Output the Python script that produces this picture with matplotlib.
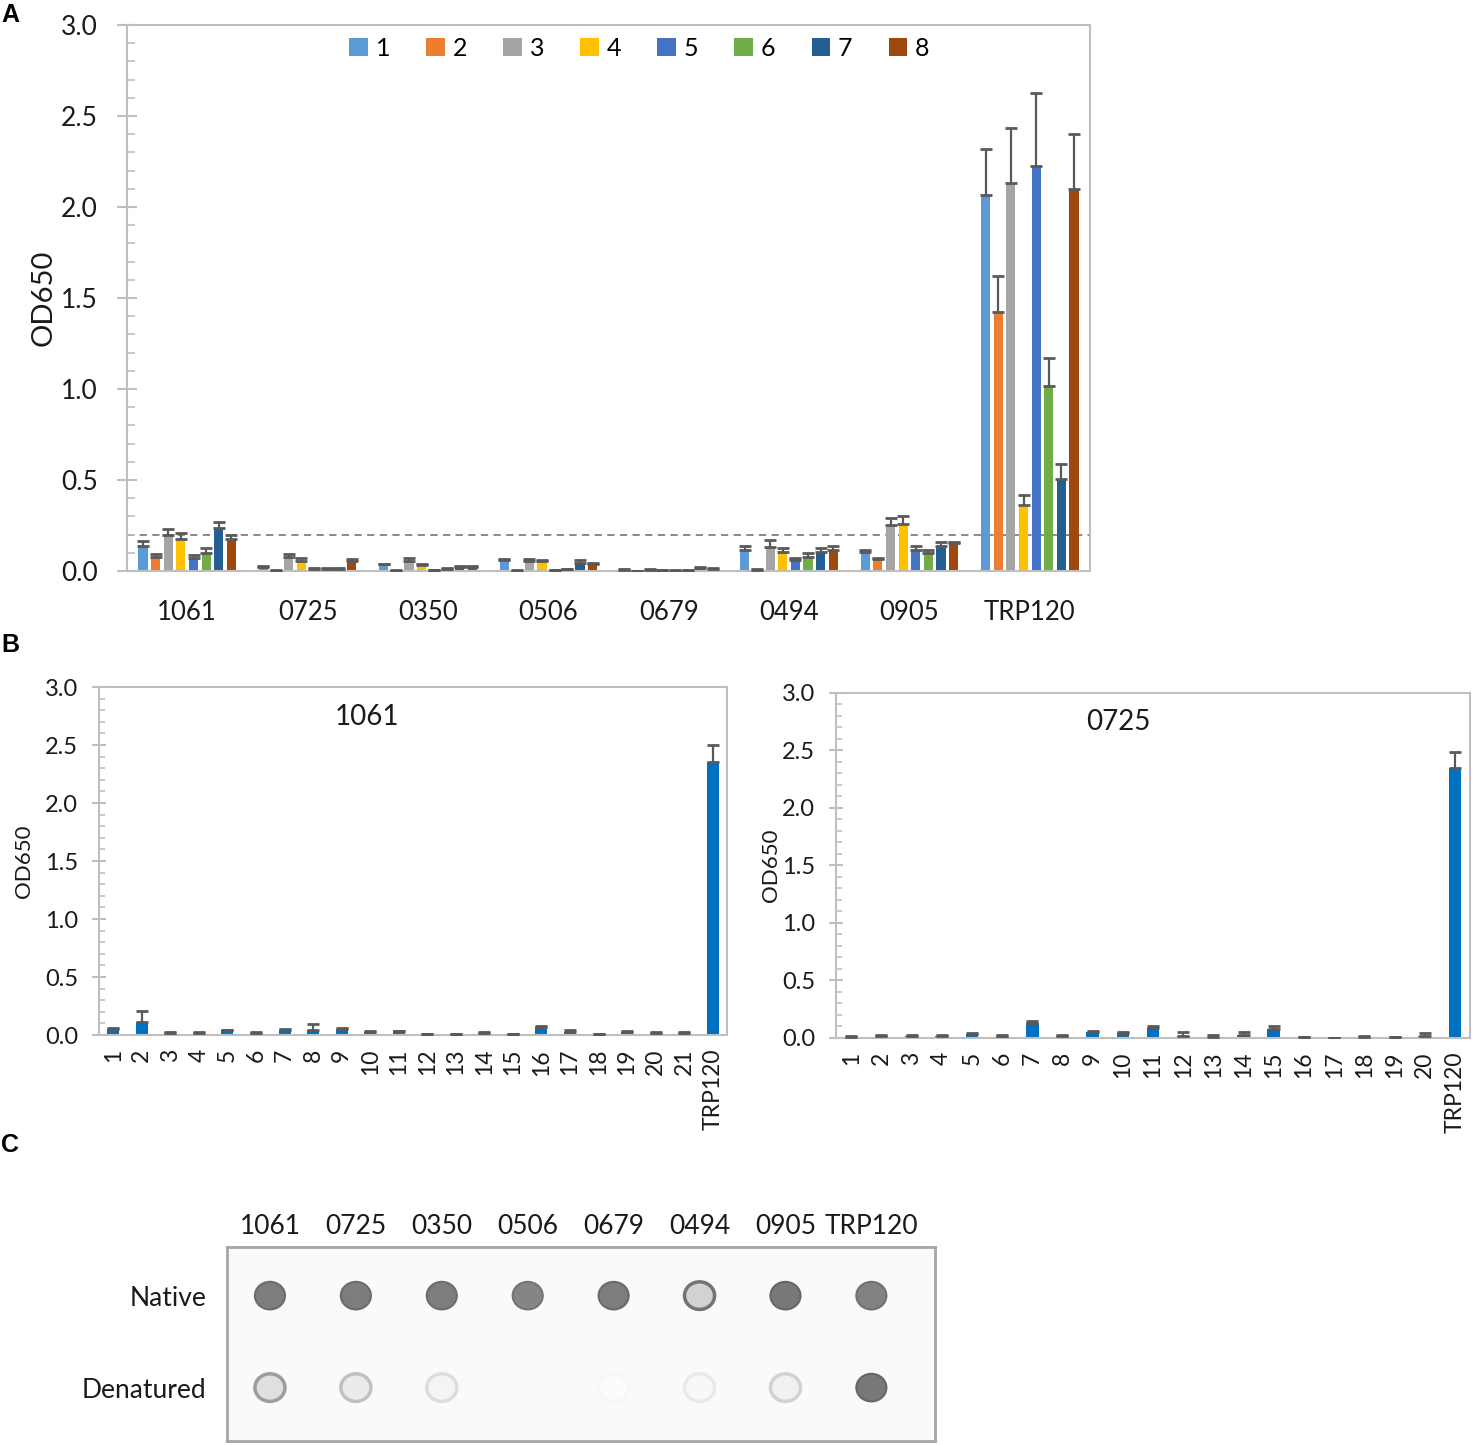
import matplotlib.pyplot as plt
import numpy as np
from matplotlib.patches import Ellipse
from matplotlib.ticker import MultipleLocator

plt.rcParams['font.family'] = ['Lato', 'DejaVu Sans']

# ---- panel A data: rows = antigen, columns = serum 1..8
antigens = ['1061', '0725', '0350', '0506', '0679', '0494', '0905', 'TRP120']
sera = ['1', '2', '3', '4', '5', '6', '7', '8']
sera_colors = ['#5B9BD5', '#ED7D31', '#A5A5A5', '#FFC000',
               '#4472C4', '#70AD47', '#255E91', '#9E480E']
a_means = [
    [0.136, 0.079, 0.200, 0.174, 0.074, 0.100, 0.236, 0.176],
    [0.024, 0.002, 0.077, 0.053, 0.013, 0.012, 0.012, 0.053],
    [0.037, 0.003, 0.055, 0.031, 0.005, 0.010, 0.024, 0.024],
    [0.059, 0.003, 0.057, 0.057, 0.005, 0.010, 0.044, 0.037],
    [0.005, 0.002, 0.008, 0.006, 0.003, 0.006, 0.018, 0.012],
    [0.117, 0.005, 0.132, 0.104, 0.063, 0.075, 0.104, 0.117],
    [0.104, 0.064, 0.253, 0.260, 0.114, 0.097, 0.136, 0.154],
    [2.066, 1.423, 2.130, 0.364, 2.225, 1.016, 0.505, 2.099],
]
a_errs = [
    [0.029, 0.013, 0.033, 0.033, 0.012, 0.025, 0.032, 0.024],
    [0.006, 0.002, 0.015, 0.021, 0.003, 0.003, 0.004, 0.011],
    [0.004, 0.001, 0.015, 0.009, 0.002, 0.005, 0.004, 0.004],
    [0.007, 0.001, 0.009, 0.005, 0.002, 0.003, 0.018, 0.005],
    [0.004, 0.001, 0.003, 0.002, 0.001, 0.002, 0.006, 0.006],
    [0.022, 0.005, 0.036, 0.022, 0.011, 0.024, 0.024, 0.022],
    [0.011, 0.008, 0.040, 0.042, 0.022, 0.020, 0.022, 0.004],
    [0.253, 0.197, 0.304, 0.054, 0.401, 0.154, 0.083, 0.301],
]
cutoff = 0.2

# ---- panel B data: peptides of 1061 and 0725
b1_labels = [str(i) for i in range(1, 22)] + ['TRP120']
b1_means = [0.050, 0.115, 0.017, 0.014, 0.040, 0.017, 0.046, 0.046, 0.052, 0.026,
            0.032, 0.009, 0.006, 0.020, 0.009, 0.066, 0.026, 0.009, 0.026, 0.020,
            0.020, 2.353]
b1_errs = [0.010, 0.092, 0.006, 0.015, 0.006, 0.006, 0.006, 0.046, 0.005, 0.006,
           0.005, 0.002, 0.003, 0.006, 0.002, 0.014, 0.017, 0.002, 0.006, 0.006,
           0.006, 0.147]
b2_labels = [str(i) for i in range(1, 21)] + ['TRP120']
b2_means = [0.009, 0.020, 0.020, 0.020, 0.035, 0.020, 0.130, 0.020, 0.052, 0.041,
            0.087, 0.020, 0.012, 0.026, 0.075, 0.006, 0.000, 0.009, 0.006, 0.017,
            2.350]
b2_errs = [0.005, 0.006, 0.006, 0.006, 0.008, 0.006, 0.021, 0.006, 0.009, 0.011,
           0.020, 0.029, 0.017, 0.023, 0.032, 0.003, 0.000, 0.005, 0.003, 0.026,
           0.140]

# ---- panel C data: dot blot signal (0 = none, 1 = dark)
native_signal = [0.85, 0.85, 0.85, 0.80, 0.85, 0.50, 0.88, 0.82]
denatured_signal = [0.35, 0.22, 0.12, 0.0, 0.03, 0.08, 0.16, 0.88]

GRID = '#BFBFBF'
ERR = '#595959'
TXT = '#1a1a1a'


def style_value_axis(ax, label_size):
    ax.set_ylim(0, 3.0)
    ax.yaxis.set_major_locator(MultipleLocator(0.5))
    ax.yaxis.set_minor_locator(MultipleLocator(0.1))
    ax.yaxis.set_major_formatter(plt.FuncFormatter(lambda v, p: '%.1f' % v))
    for s in ax.spines.values():
        s.set_color(GRID)
        s.set_linewidth(1.5)
    ax.tick_params(axis='y', which='major', direction='inout', length=14, width=1.5,
                   color=GRID, labelsize=label_size, labelcolor=TXT, pad=14)
    ax.tick_params(axis='y', which='minor', direction='in', length=6, width=1.2,
                   color=GRID)
    ax.tick_params(axis='x', length=0)


fig = plt.figure(figsize=(14.74, 14.45), dpi=100)

# ---------------- panel A
ax_a = fig.add_axes([0.0862, 0.6048, 0.6533, 0.3779])
style_value_axis(ax_a, 19)
x = np.arange(len(antigens))
pitch = 0.105
width = 0.076
means = np.array(a_means)
errs = np.array(a_errs)
for j, lab in enumerate(sera):
    pos = x + (j - 3.5) * pitch
    ax_a.bar(pos, means[:, j], width, color=sera_colors[j], label=lab, zorder=2)
    ax_a.errorbar(pos, means[:, j], yerr=[np.zeros(len(x)), errs[:, j]], fmt='none',
                  ecolor=ERR, elinewidth=1.6, capsize=4.5, capthick=2, zorder=3)
ax_a.axhline(cutoff, color='#808080', linestyle=(0, (4, 3)), linewidth=1.3, zorder=1)
ax_a.set_xlim(-0.5, len(antigens) - 0.5)
ax_a.set_xticks(x)
ax_a.set_xticklabels(antigens, fontsize=18.5, color=TXT)
ax_a.tick_params(axis='x', pad=21)
ax_a.set_ylabel('OD650', fontsize=21, color=TXT, labelpad=3)
ax_a.legend(loc='center', bbox_to_anchor=(0.532, 0.957), ncol=8, frameon=False,
            fontsize=18, handlelength=0.75, handleheight=0.75, handletextpad=0.3,
            columnspacing=1.45)

# ---------------- panel B
def peptide_panel(rect, labels, vals, errs_b, title, tx, ty, lpad):
    ax = fig.add_axes(rect)
    style_value_axis(ax, 17)
    ax.tick_params(axis='y', which='major', length=10, pad=10)
    ax.tick_params(axis='y', which='minor', length=4)
    xb = np.arange(len(labels))
    ax.bar(xb, vals, 0.42, color='#0070C0', zorder=2)
    ax.errorbar(xb, vals, yerr=[np.zeros(len(xb)), errs_b], fmt='none', ecolor=ERR,
                elinewidth=1.6, capsize=4.5, capthick=2, zorder=3)
    ax.set_xlim(-0.5, len(labels) - 0.5)
    ax.set_xticks(xb)
    ax.set_xticklabels(labels, rotation=90, fontsize=16.5, color=TXT)
    ax.tick_params(axis='x', pad=10)
    ax.set_ylabel('OD650', fontsize=16, color=TXT, labelpad=lpad)
    ax.text(tx, ty, title, transform=ax.transAxes, ha='center', va='center',
            fontsize=20, color=TXT)
    return ax


peptide_panel([0.0672, 0.2837, 0.4260, 0.2408], b1_labels, b1_means, b1_errs,
              '1061', 0.427, 0.914, 8)
peptide_panel([0.5672, 0.2817, 0.4301, 0.2388], b2_labels, b2_means, b2_errs,
              '0725', 0.446, 0.916, 1)

# ---------------- panel C
ax_c = fig.add_axes([0.1540, 0.0028, 0.4803, 0.1343])
ax_c.set_facecolor('#FAFAFA')
ax_c.set_xlim(-0.5, 7.74)
ax_c.set_ylim(1.58, -0.53)
for s in ax_c.spines.values():
    s.set_color('#A6A6A6')
    s.set_linewidth(2)
for row, signal in enumerate([native_signal, denatured_signal]):
    for i, sig in enumerate(signal):
        if sig <= 0:
            continue
        if sig >= 0.7:
            face = str(1 - 0.6 * sig)
            edge = str(1 - 0.68 * sig)
        else:
            face = str(1 - 0.35 * sig)
            edge = str(1 - 1.1 * sig)
        ax_c.add_patch(Ellipse((i, row), 0.35, 0.30, facecolor=face, edgecolor=edge,
                               linewidth=2.5 if sig < 0.7 else 1.5))
ax_c.xaxis.tick_top()
ax_c.set_xticks(range(len(antigens)))
ax_c.set_xticklabels(antigens, fontsize=19, color=TXT)
ax_c.set_yticks([0, 1])
ax_c.set_yticklabels(['Native', 'Denatured'], fontsize=19, color=TXT)
ax_c.tick_params(length=0)
ax_c.tick_params(axis='x', pad=6)
ax_c.tick_params(axis='y', pad=15)

# panel letters
for letter, yy in [('A', 0.9896), ('B', 0.5536), ('C', 0.2076)]:
    fig.text(0.0007, yy, letter, fontsize=18, fontweight='bold',
             family='Liberation Sans', va='center', ha='left')

fig.savefig('out.png', dpi=100)
